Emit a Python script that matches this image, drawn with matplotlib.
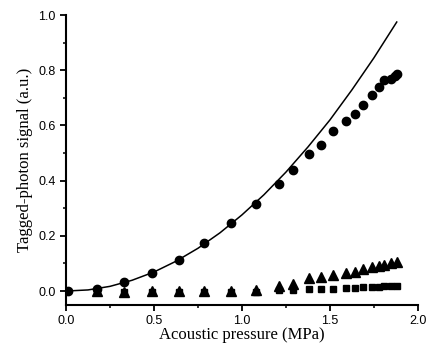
import matplotlib
matplotlib.use("Agg")
import matplotlib.pyplot as plt
from matplotlib.ticker import MultipleLocator, FormatStrFormatter

# measured signal (circles)
p_circ = [0.01, 0.174, 0.33, 0.49, 0.64, 0.786, 0.94, 1.08, 1.21, 1.29, 1.38, 1.45,
          1.52, 1.59, 1.64, 1.69, 1.74, 1.78, 1.81, 1.845, 1.87, 1.88]
s_circ = [0.0, 0.006, 0.034, 0.064, 0.112, 0.173, 0.245, 0.314, 0.388, 0.44, 0.496, 0.529,
          0.58, 0.615, 0.641, 0.674, 0.71, 0.74, 0.764, 0.77, 0.779, 0.786]

# triangles
p_tri = [0.174, 0.33, 0.49, 0.64, 0.786, 0.94, 1.08, 1.21, 1.29, 1.38, 1.45, 1.52,
         1.59, 1.64, 1.69, 1.74, 1.78, 1.81, 1.845, 1.88]
s_tri = [0.001, -0.002, -0.001, -0.001, 0.0, 0.001, 0.004, 0.018, 0.026, 0.046, 0.052, 0.058,
         0.064, 0.07, 0.08, 0.086, 0.09, 0.096, 0.1, 0.106]

# squares
p_sq = [0.174, 0.33, 0.49, 0.64, 0.786, 0.94, 1.08, 1.21, 1.29, 1.38, 1.45, 1.52,
        1.59, 1.64, 1.69, 1.74, 1.78, 1.81, 1.845, 1.88]
s_sq = [-0.004, -0.004, -0.004, -0.004, -0.004, -0.004, -0.003, 0.002, 0.004, 0.006, 0.006, 0.008,
        0.01, 0.011, 0.013, 0.014, 0.016, 0.017, 0.018, 0.019]

# fitted curve
p_fit = [0.0, 0.125, 0.25, 0.375, 0.5, 0.625, 0.75, 0.875, 1.0, 1.125, 1.25,
         1.375, 1.5, 1.625, 1.75, 1.88]
s_fit = [0.0, 0.004, 0.017, 0.039, 0.069, 0.108, 0.155, 0.211, 0.276, 0.349, 0.431,
         0.522, 0.62, 0.729, 0.845, 0.975]

fig = plt.figure(figsize=(4.29, 3.52), dpi=100)
ax = fig.add_axes([0.154, 0.134, 0.82, 0.823])

ax.plot(p_fit, s_fit, color='black', linewidth=1.1)
ax.plot(p_circ, s_circ, 'o', color='black', markersize=6)
ax.plot(p_sq, s_sq, 's', color='black', markersize=5)
ax.plot(p_tri, s_tri, '^', color='black', markersize=6.5)

ax.set_xlim(0, 2.0)
ax.set_ylim(-0.05, 1.0)
ax.xaxis.set_major_locator(MultipleLocator(0.5))
ax.xaxis.set_minor_locator(MultipleLocator(0.25))
ax.yaxis.set_major_locator(MultipleLocator(0.2))
ax.yaxis.set_minor_locator(MultipleLocator(0.1))
ax.xaxis.set_major_formatter(FormatStrFormatter('%.1f'))
ax.yaxis.set_major_formatter(FormatStrFormatter('%.1f'))
ax.spines['top'].set_visible(False)
ax.spines['right'].set_visible(False)
ax.spines['left'].set_linewidth(1.5)
ax.spines['bottom'].set_linewidth(1.5)
ax.tick_params(which='major', direction='out', length=4, width=1.3, labelsize=9)
ax.tick_params(which='minor', direction='out', length=2.5, width=1.1)
for lab in ax.get_xticklabels() + ax.get_yticklabels():
    lab.set_family('Liberation Sans')

ax.set_xlabel('Acoustic pressure (MPa)', family='Liberation Serif', fontsize=12, labelpad=0)
ax.set_ylabel('Tagged-photon signal (a.u.)', family='Liberation Serif', fontsize=12, labelpad=4)

fig.savefig('out.png', dpi=100)
